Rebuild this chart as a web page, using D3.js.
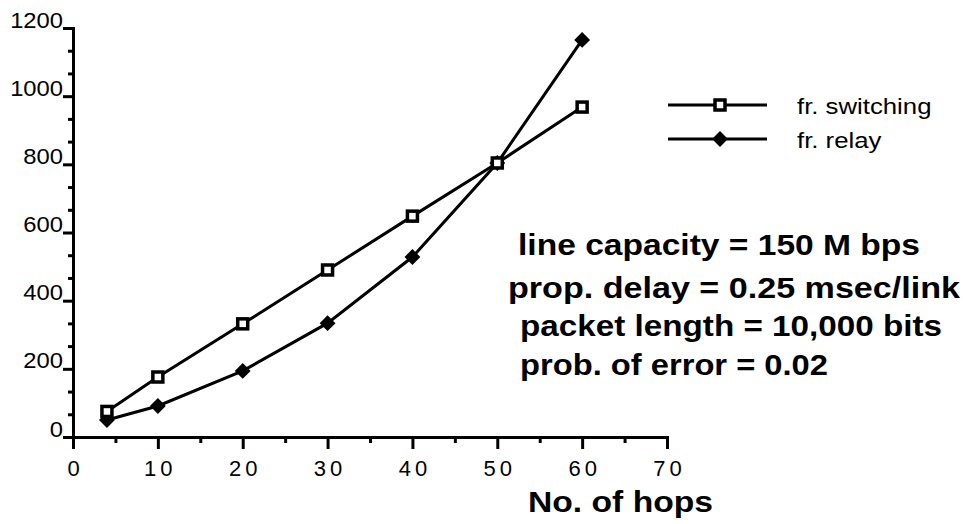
<!DOCTYPE html>
<html>
<head>
<meta charset="utf-8">
<script src="https://cdn.jsdelivr.net/npm/d3@7"></script>
<style>
  html, body { margin: 0; padding: 0; background: #fff; }
  svg { display: block; }
</style>
</head>
<body>
<svg id="chart" width="963" height="524"></svg>
<script>
// ---------------------------------------------------------------------------
// Data
// ---------------------------------------------------------------------------
const hops        = [4, 10, 20, 30, 40, 50, 60];
const frSwitching = [75, 176, 332, 490, 648, 804, 968];
const frRelay     = [50, 91, 194, 334, 528, 804, 1165];

const seriesNames = ['fr. switching', 'fr. relay'];
const xTicks      = [0, 10, 20, 30, 40, 50, 60, 70];
const xMinorTicks = [5, 15, 25, 35, 45, 55, 65];
const yTicks      = [0, 200, 400, 600, 800, 1000, 1200];
const yMinorTicks = d3.range(0, 1200, 200).flatMap(v => [v + 200 / 3, v + 400 / 3]);
const xTitle      = 'No. of hops';
const notes       = [
  'line capacity = 150 M bps',
  'prop. delay = 0.25 msec/link',
  'packet length = 10,000 bits',
  'prob. of error = 0.02'
];

// ---------------------------------------------------------------------------
// Layout
// ---------------------------------------------------------------------------
const FONT = '"Liberation Sans", Arial, Helvetica, sans-serif';
const svg = d3.select('#chart');

const x = d3.scaleLinear().domain([0, 70]).range([73, 667]);
const y = d3.scaleLinear().domain([0, 1200]).range([437, 28]);

// the original type is a bit wider than Arial, so stretch it horizontally
function stretch(sel, k) {
  sel.each(function () {
    const len = this.getComputedTextLength();
    d3.select(this).attr('textLength', len * k).attr('lengthAdjust', 'spacingAndGlyphs');
  });
}
function fitTo(sel, w) {
  sel.attr('textLength', w).attr('lengthAdjust', 'spacingAndGlyphs');
}

function styleAxis(sel) {
  sel.select('.domain').attr('stroke', '#000').attr('stroke-width', 3);
  sel.selectAll('.tick line').attr('stroke', '#000').attr('stroke-width', 3);
}

// minor ticks first, main axes on top
svg.append('g')
  .attr('transform', `translate(0,${y(0)})`)
  .call(d3.axisBottom(x).tickValues(xMinorTicks).tickSize(6).tickFormat(''))
  .call(styleAxis);

svg.append('g')
  .attr('transform', `translate(${x(0)},0)`)
  .call(d3.axisLeft(y).tickValues(yMinorTicks).tickSize(5).tickFormat(''))
  .call(styleAxis);

const xAx = svg.append('g')
  .attr('transform', `translate(0,${y(0)})`)
  .call(d3.axisBottom(x).tickValues(xTicks).tickSize(12).tickSizeOuter(0)
    .tickPadding(11).tickFormat(d3.format('d')))
  .call(styleAxis);
xAx.selectAll('text')
  .attr('font-family', FONT).attr('font-size', 22)
  .attr('letter-spacing', '4px').attr('dx', '2px').attr('fill', '#000');

const yAx = svg.append('g')
  .attr('transform', `translate(${x(0)},0)`)
  .call(d3.axisLeft(y).tickValues(yTicks).tickSize(10).tickSizeOuter(0)
    .tickPadding(0).tickFormat(d3.format('d')))
  .call(styleAxis);
yAx.selectAll('text')
  .attr('font-family', FONT).attr('font-size', 22)
  .attr('dy', '-1px').attr('fill', '#000')
  .call(stretch, 1.08);

// ---------------------------------------------------------------------------
// Series
// ---------------------------------------------------------------------------
const line = d3.line().x(d => x(d[0])).y(d => y(d[1]));
const swPts = hops.map((h, i) => [h, frSwitching[i]]);
const rlPts = hops.map((h, i) => [h, frRelay[i]]);

[swPts, rlPts].forEach(pts => {
  svg.append('path').datum(pts)
    .attr('d', line).attr('fill', 'none')
    .attr('stroke', '#000').attr('stroke-width', 3);
});

const diamond = d3.symbol().type(d3.symbolDiamond2).size(160);

function drawSquare(g, cx, cy) {
  g.append('rect')
    .attr('x', cx - 5).attr('y', cy - 5)
    .attr('width', 10).attr('height', 10)
    .attr('fill', '#fff').attr('stroke', '#000').attr('stroke-width', 3.5);
}
function drawDiamond(g, cx, cy) {
  g.append('path').attr('d', diamond)
    .attr('transform', `translate(${cx},${cy})`).attr('fill', '#000');
}

rlPts.forEach(d => drawDiamond(svg, x(d[0]), y(d[1])));
swPts.forEach(d => drawSquare(svg, x(d[0]), y(d[1])));

// ---------------------------------------------------------------------------
// Legend
// ---------------------------------------------------------------------------
const legend = svg.append('g');
seriesNames.forEach((name, i) => {
  const ly = 105 + i * 34;
  legend.append('line')
    .attr('x1', 668).attr('x2', 767).attr('y1', ly).attr('y2', ly)
    .attr('stroke', '#000').attr('stroke-width', 3);
  if (i === 0) drawSquare(legend, 720, ly); else drawDiamond(legend, 720, ly);
  legend.append('text')
    .attr('x', 797).attr('y', ly + 9)
    .attr('font-family', FONT).attr('font-size', 22)
    .call(t => t.text(name))
    .call(stretch, 1.17);
});

// ---------------------------------------------------------------------------
// Annotation + axis title
// ---------------------------------------------------------------------------
const noteX = [518, 508, 520, 520];
const noteY = [255, 298, 336, 375];
const noteW = [402, 452, 422, 308];
notes.forEach((t, i) => {
  svg.append('text')
    .attr('x', noteX[i]).attr('y', noteY[i])
    .attr('font-family', FONT).attr('font-size', 30).attr('font-weight', 'bold')
    .text(t)
    .call(fitTo, noteW[i]);
});

svg.append('text')
  .attr('x', 528).attr('y', 512)
  .attr('font-family', FONT).attr('font-size', 30).attr('font-weight', 'bold')
  .text(xTitle)
  .call(fitTo, 185);
</script>
</body>
</html>
